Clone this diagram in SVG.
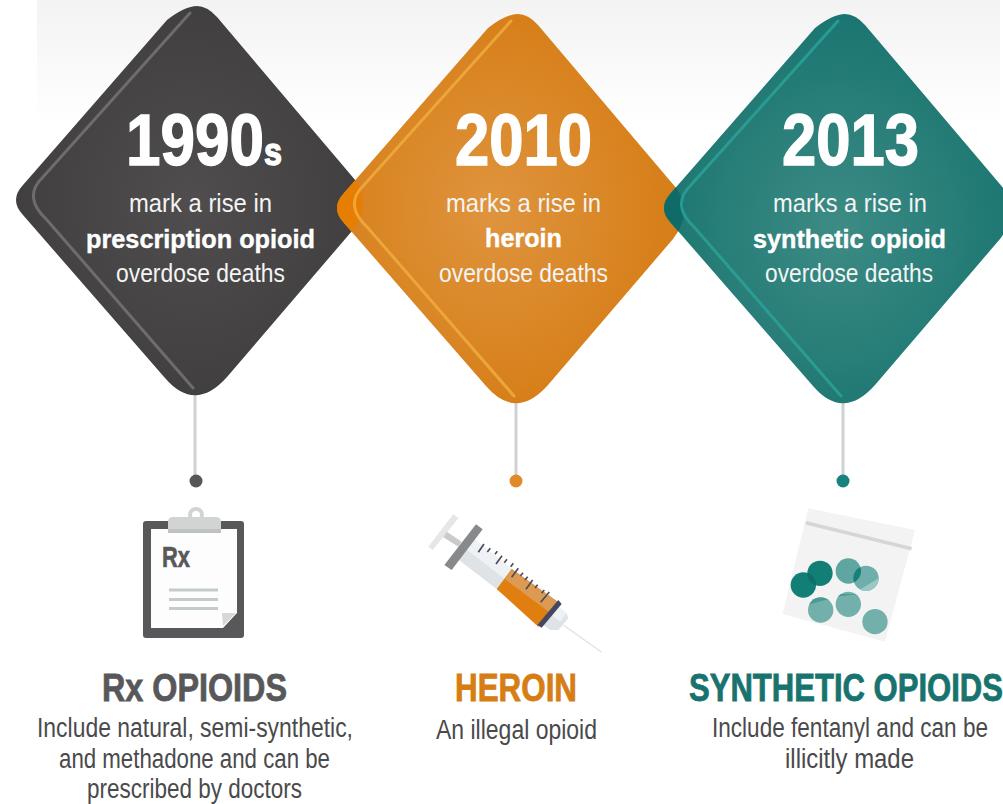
<svg xmlns="http://www.w3.org/2000/svg" xmlns:xlink="http://www.w3.org/1999/xlink" width="1003" height="804" viewBox="0 0 1003 804">
<style>
text{font-family:"Liberation Sans Narrow","Liberation Sans","DejaVu Sans",sans-serif}
.y{font-size:73px;font-weight:700;fill:#fff;stroke:#fff;stroke-width:1.4}
.ys{font-size:38px}
.l{font-size:26px;fill:#f4f4f4}
.b{font-size:26px;font-weight:700;fill:#fff;stroke:#fff;stroke-width:.4}
.t{font-size:38px;font-weight:700;stroke-width:.8}
.d{font-size:27px;fill:#4a4a4c}
.hl{fill:none;stroke-width:3;stroke-linecap:round;stroke-opacity:.85}
.stem{stroke:#cfd0d0;stroke-width:3;fill:none}
</style>
<defs>
<linearGradient id="bg" x1="0" y1="0" x2="0" y2="1"><stop offset="0" stop-color="#f3f3f3"/><stop offset="1" stop-color="#fff"/></linearGradient>
<radialGradient id="gDark" cx="0.5" cy="0.5" r="0.6"><stop offset="0" stop-color="#4f4d4d"/><stop offset="1" stop-color="#3e3c3c"/></radialGradient>
<radialGradient id="gOrange" cx="0.45" cy="0.5" r="0.6"><stop offset="0" stop-color="#df943e"/><stop offset="1" stop-color="#d57b12"/></radialGradient>
<radialGradient id="gTeal" cx="0.5" cy="0.55" r="0.6"><stop offset="0" stop-color="#3d8b85"/><stop offset="1" stop-color="#17736e"/></radialGradient>
<path id="dia" d="M167,20 Q185,6 197,6 Q207,6 217,17 L356,181 Q372,205 352,231 L227,377 Q195,413 165,378 L23,215 Q9,200 23,185 Z"/>
<path id="edge" d="M190,13 L43,177 Q22,197 47,220 L193,388"/>
<clipPath id="c1"><use xlink:href="#dia"/></clipPath>
<clipPath id="c2"><use xlink:href="#dia" transform="translate(321,8)"/></clipPath>
<clipPath id="p1"><circle cx="100" cy="285" r="38"/></clipPath>
<clipPath id="p3"><circle cx="235" cy="243" r="38"/></clipPath>
<clipPath id="p4"><circle cx="288" cy="265" r="38"/></clipPath>
<clipPath id="p5"><circle cx="152" cy="360" r="38"/></clipPath>
<clipPath id="p6"><circle cx="235" cy="343" r="38"/></clipPath>
</defs>
<rect id="band" x="37" y="0" width="963" height="125" fill="url(#bg)"/>
<g id="connectors">
<path class="stem" d="M195,392V476"/>
<path class="stem" d="M516,400V476"/>
<path class="stem" d="M843,400V476"/>
</g>
<g id="node-1990s">
<use xlink:href="#dia" fill="url(#gDark)"/>
<use xlink:href="#edge" class="hl" stroke="#757373"/>
<text class="y" x="126" y="165" textLength="156" lengthAdjust="spacingAndGlyphs">1990<tspan class="ys">s</tspan></text>
<text class="l" x="129" y="212" textLength="143" lengthAdjust="spacingAndGlyphs">mark a rise in</text>
<text class="b" x="86" y="248" textLength="229" lengthAdjust="spacingAndGlyphs">prescription opioid</text>
<text class="l" x="116" y="282" textLength="169" lengthAdjust="spacingAndGlyphs">overdose deaths</text>
</g>
<g id="node-2010">
<use xlink:href="#dia" transform="translate(321,8)" fill="url(#gOrange)"/>
<g clip-path="url(#c1)"><use xlink:href="#dia" transform="translate(321,8)" fill="#e67e04"/></g>
<use xlink:href="#edge" transform="translate(321,8)" class="hl" stroke="#efab3e"/>
<text class="y" x="455" y="165" textLength="137" lengthAdjust="spacingAndGlyphs">2010</text>
<text class="l" x="446" y="212" textLength="155" lengthAdjust="spacingAndGlyphs">marks a rise in</text>
<text class="b" x="485" y="247" textLength="77" lengthAdjust="spacingAndGlyphs">heroin</text>
<text class="l" x="439" y="282" textLength="169" lengthAdjust="spacingAndGlyphs">overdose deaths</text>
</g>
<g id="node-2013">
<use xlink:href="#dia" transform="translate(648,8)" fill="url(#gTeal)"/>
<g clip-path="url(#c2)"><use xlink:href="#dia" transform="translate(648,8)" fill="#0f6b66"/></g>
<use xlink:href="#edge" transform="translate(648,8)" class="hl" stroke="#2ba198"/>
<text class="y" x="782" y="165" textLength="137" lengthAdjust="spacingAndGlyphs">2013</text>
<text class="l" x="773" y="212" textLength="154" lengthAdjust="spacingAndGlyphs">marks a rise in</text>
<text class="b" x="753" y="248" textLength="193" lengthAdjust="spacingAndGlyphs">synthetic opioid</text>
<text class="l" x="765" y="282" textLength="168" lengthAdjust="spacingAndGlyphs">overdose deaths</text>
</g>
<g id="dot-rx"><circle cx="196" cy="481" r="6.5" fill="#55555a"/></g>
<g id="dot-heroin"><circle cx="516" cy="481" r="6.5" fill="#e08a28"/></g>
<g id="dot-synthetic"><circle cx="843" cy="481" r="6.5" fill="#16837c"/></g>
<g id="icon-clipboard">
<rect x="143" y="521" width="101" height="117" rx="3" fill="#58585a"/>
<path d="M151,529H237V613L223,628H151Z" fill="#fdfdfd"/>
<path d="M222,613H236L223,626Z" fill="#d6d8d8"/>
<circle cx="196" cy="515" r="6" fill="none" stroke="#d2d4d4" stroke-width="4"/>
<path d="M168,522Q168,517 173,517H216Q221,517 221,522V533H168Z" fill="#d2d4d4"/>
<rect x="168" y="529" width="53" height="4" fill="#bfc2c2"/>
<text x="162" y="567" font-size="29" font-weight="700" fill="#58585a" stroke="#58585a" stroke-width=".6" textLength="28" lengthAdjust="spacingAndGlyphs">Rx</text>
<path d="M169,590H218M169,599.5H218M169,608.5H218" stroke="#c3cbcb" stroke-width="3" fill="none"/>
</g>
<g id="icon-syringe" transform="translate(410,490) scale(.3333)">
<path d="M55,170L130,72L145,85L68,180Z" fill="#e6e6e6"/>
<path d="M110,125L155,155L145,170L100,142Z" fill="#c9cbcb"/>
<path d="M190,145L470,370L475,385L445,420L420,420L140,205Z" fill="#dfe3e6"/>
<path d="M190,145L470,370L450,395L165,175Z" fill="#eef2f5"/>
<path d="M305,237L443,335L385,410L260,297Z" fill="#e07f10"/>
<path d="M305,237L443,335L418,367L285,268Z" fill="#dc9a52"/>
<path d="M103,225L198,103L218,118L125,240Z" fill="#88898a"/>
<path d="M445,330L455,342L395,413L382,405Z" fill="#44475f"/>
<path d="M460,405L575,487" stroke="#dfe3e3" stroke-width="4" fill="none"/>
<path d="M205,187L222,162M232,186L241,175M255,193L262,184M258,222L276,197M283,218L291,208M302,230L310,220M305,262L325,235M331,258L339,248M345,270L353,260M348,298L368,270M375,294L383,284M395,310L403,300M392,337L418,306" stroke="#4a4c5c" stroke-width="5" fill="none"/>
</g>
<g id="icon-bag" transform="translate(770,490) scale(.3333)">
<path d="M115,55L435,120L345,455L38,372Z" fill="#f3f3f3"/>
<path d="M108,98L425,176" stroke="#d6d6d6" stroke-width="11" fill="none"/>
<circle cx="150" cy="250" r="38" fill="#127f76"/>
<circle cx="100" cy="285" r="38" fill="#127f76"/>
<g clip-path="url(#p1)"><circle cx="150" cy="250" r="38" fill="#0e6d66"/></g>
<circle cx="235" cy="243" r="38" fill="#5fa6a1"/>
<circle cx="288" cy="265" r="38" fill="#6faeaa"/>
<g clip-path="url(#p3)"><circle cx="288" cy="265" r="38" fill="#157f78"/></g>
<g clip-path="url(#p4)"><path d="M268,300L330,262V310H268Z" fill="#9bc8c5"/></g>
<circle cx="152" cy="360" r="38" fill="#73b0ac"/>
<g clip-path="url(#p5)"><path d="M110,345L195,322H110Z" fill="#4d9a95"/></g>
<circle cx="235" cy="343" r="38" fill="#73b0ac"/>
<g clip-path="url(#p6)"><path d="M195,320L270,312H195Z" fill="#4d9a95"/></g>
<circle cx="315" cy="395" r="38" fill="#73b0ac"/>
</g>
<g id="caption-rx">
<text class="t" x="102" y="701" fill="#58585a" stroke="#58585a" textLength="185" lengthAdjust="spacingAndGlyphs">Rx OPIOIDS</text>
<text class="d" x="37" y="737" textLength="316" lengthAdjust="spacingAndGlyphs">Include natural, semi-synthetic,</text>
<text class="d" x="59" y="768" textLength="271" lengthAdjust="spacingAndGlyphs">and methadone and can be</text>
<text class="d" x="87" y="798" textLength="215" lengthAdjust="spacingAndGlyphs">prescribed by doctors</text>
</g>
<g id="caption-heroin">
<text class="t" x="455" y="701" fill="#d67d14" stroke="#d67d14" textLength="122" lengthAdjust="spacingAndGlyphs">HEROIN</text>
<text class="d" x="436" y="739" textLength="161" lengthAdjust="spacingAndGlyphs">An illegal opioid</text>
</g>
<g id="caption-synthetic">
<text class="t" x="689" y="701" fill="#18736e" stroke="#18736e" textLength="314" lengthAdjust="spacingAndGlyphs">SYNTHETIC OPIOIDS</text>
<text class="d" x="712" y="737" textLength="276" lengthAdjust="spacingAndGlyphs">Include fentanyl and can be</text>
<text class="d" x="785" y="768" textLength="129" lengthAdjust="spacingAndGlyphs">illicitly made</text>
</g>
</svg>
